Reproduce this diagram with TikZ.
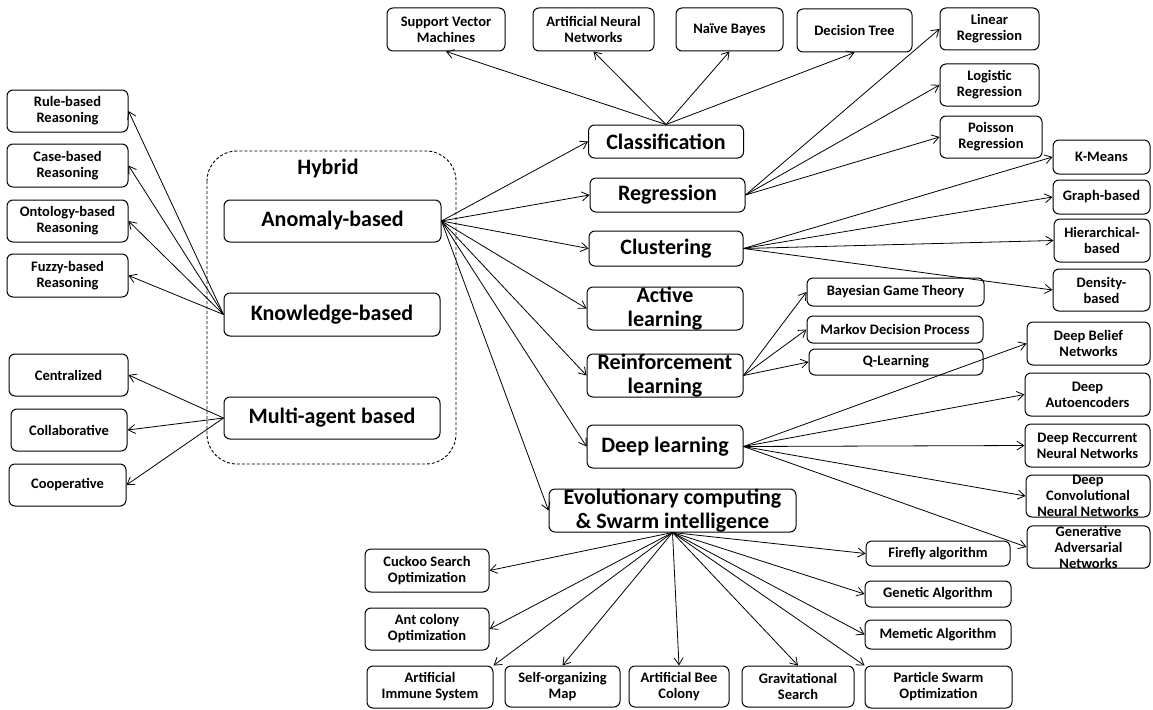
\documentclass[tikz,border=0pt]{standalone}
\usepackage{fontspec}
\setmainfont{Carlito}
\usetikzlibrary{arrows.meta}
\begin{document}
\begin{tikzpicture}[x=1pt,y=-1pt,
  box/.style={draw, line width=1pt, rounded corners=6pt, align=center, inner sep=0pt, font=\bfseries\fontsize{14.5}{16}\selectfont},
  bigbox/.style={box, font=\bfseries\fontsize{22}{23.5}\selectfont},
  arr/.style={line width=0.8pt, -{Straight Barb[length=7pt,width=9pt,line width=0.8pt]}}]
\useasboundingbox (0,0) rectangle (1153,709);
\newcommand{\bx}[6]{\node[#1, minimum width=#4pt, minimum height=#5pt] (#2) at (#3) {#6};}
% Hybrid container
\draw[line width=0.9pt, dash pattern=on 3pt off 2pt, rounded corners=30pt] (207,151) rectangle (456,464);
\node[font=\bfseries\fontsize{22}{23.5}\selectfont] (hyb) at (328,169) {Hybrid};
% left boxes
\bx{box}{rule}{67.5,111}{121}{42}{Rule-based\\Reasoning}
\bx{box}{case}{67.5,165.5}{121}{43}{Case-based\\Reasoning}
\bx{box}{onto}{67.5,221}{121}{42}{Ontology-based\\Reasoning}
\bx{box}{fuzzy}{67.5,275.5}{121}{43}{Fuzzy-based\\Reasoning}
\bx{box}{central}{68.5,375}{119}{42}{Centralized}
\bx{box}{collab}{69,430}{116}{42}{Collaborative}
\bx{box}{coop}{67.5,485}{117}{42}{Cooperative}
\bx{bigbox}{anom}{332.5,221}{217}{42}{Anomaly-based}
\bx{bigbox}{know}{332,314.5}{216}{43}{Knowledge-based}
\bx{bigbox}{multi}{332,418}{216}{42}{Multi-agent based}
% top
\bx{box}{svm}{446,29.5}{118}{43}{Support Vector\\Machines}
\bx{box}{ann}{593.5,29.5}{121}{43}{Artificial Neural\\Networks}
\bx{box}{nb}{729.5,29.5}{107}{43}{Naïve Bayes}
\bx{box}{dt}{854.5,30.5}{115}{43}{Decision Tree}
\bx{box}{lin}{989.5,29}{99}{42}{Linear\\Regression}
\bx{box}{log}{989.5,85}{99}{42}{Logistic\\Regression}
\bx{box}{poi}{991,137}{102}{42}{Poisson\\Regression}
% middle
\bx{bigbox}{cls}{666,141.5}{155}{33}{Classification}
\bx{bigbox}{reg}{667.5,195}{155}{34}{Regression}
\bx{bigbox}{clu}{666,248.5}{154}{35}{Clustering}
\bx{bigbox}{act}{665,308.5}{156}{43}{Active\\learning}
\bx{bigbox}{rein}{665,375.5}{156}{43}{Reinforcement\\learning}
\bx{bigbox}{deep}{665,446.5}{156}{43}{Deep learning}
\bx{bigbox}{evo}{672.5,510.5}{247}{43}{Evolutionary computing\\\& Swarm intelligence}
% right
\bx{box}{km}{1101.5,157}{97}{34}{K-Means}
\bx{box}{gb}{1101.5,197}{97}{34}{Graph-based}
\bx{box}{hb}{1102,240.5}{96}{43}{Hierarchical-\\based}
\bx{box}{db}{1101.5,290}{97}{42}{Density-\\based}
\bx{box}{bgt}{895.5,292}{177}{28}{Bayesian Game Theory}
\bx{box}{mdp}{895,329.5}{176}{27}{Markov Decision Process}
\bx{box}{ql}{896,362}{174}{26}{Q-Learning}
\bx{box}{dbn}{1088.5,343.5}{123}{43}{Deep Belief\\Networks}
\bx{box}{dae}{1087.5,394.5}{125}{43}{Deep\\Autoencoders}
\bx{box}{drnn}{1087.5,445.5}{125}{43}{Deep Reccurrent\\Neural Networks}
\bx{box}{dcnn}{1088,496}{124}{42}{Deep\\Convolutional\\Neural Networks}
\bx{box}{gan}{1088.5,547}{123}{42}{Generative\\Adversarial\\Networks}
% evolutionary children
\bx{box}{ff}{938,553.5}{144}{25}{Firefly algorithm}
\bx{box}{ga}{938,594}{146}{26}{Genetic Algorithm}
\bx{box}{ma}{938,634.5}{146}{29}{Memetic Algorithm}
\bx{box}{cso}{427,570.5}{124}{43}{Cuckoo Search\\Optimization}
\bx{box}{aco}{427,629}{124}{42}{Ant colony\\Optimization}
\bx{box}{ais}{430,687}{126}{42}{Artificial\\Immune System}
\bx{box}{som}{562.5,686.5}{115}{41}{Self-organizing\\Map}
\bx{box}{abc}{679,686.5}{100}{41}{Artificial Bee\\Colony}
\bx{box}{gs}{798,686.5}{112}{41}{Gravitational\\Search}
\bx{box}{pso}{938.5,687}{147}{42}{Particle Swarm\\Optimization}
% connectors
\foreach \t in {rule,case,onto,fuzzy} \draw[arr] (know.west) -- (\t.east);
\foreach \t in {central,collab,coop} \draw[arr] (multi.west) -- (\t.east);
\foreach \t in {cls,reg,clu,act,rein,deep,evo} \draw[arr] (anom.east) -- (\t.west);
\foreach \t in {svm,ann,nb,dt} \draw[arr] (cls.north) -- (\t.south);
\foreach \t in {lin,log,poi} \draw[arr] (reg.east) -- (\t.west);
\foreach \t in {km,gb,hb,db} \draw[arr] (clu.east) -- (\t.west);
\foreach \t in {bgt,mdp,ql} \draw[arr] (rein.east) -- (\t.west);
\foreach \t in {dbn,dae,drnn,dcnn,gan} \draw[arr] (deep.east) -- (\t.west);
\foreach \t in {cso,aco} \draw[arr] (evo.south) -- (\t.east);
\draw[arr] (evo.south) -- (ais.north east);
\foreach \t in {som,abc,gs} \draw[arr] (evo.south) -- (\t.north);
\draw[arr] (evo.south) -- (pso.north west);
\foreach \t in {ff,ga,ma} \draw[arr] (evo.south) -- (\t.west);
\end{tikzpicture}
\end{document}
